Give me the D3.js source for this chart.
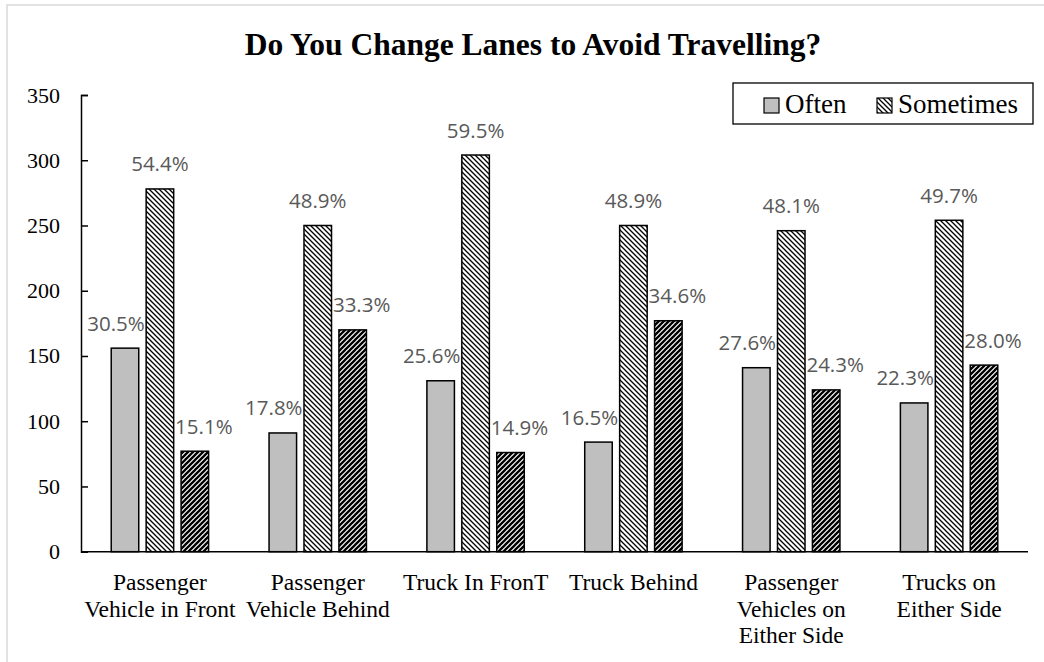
<!DOCTYPE html>
<html>
<head>
<meta charset="utf-8">
<script src="https://cdn.jsdelivr.net/npm/d3@7"></script>
<style>
  html, body { margin: 0; padding: 0; background: #fff; }
  svg { display: block; }
</style>
</head>
<body>
<svg id="chart" width="1044" height="662"></svg>
<script>
// Survey responses: number of respondents per situation and answer
const categories = [
  ["Passenger", "Vehicle in Front"],
  ["Passenger", "Vehicle Behind"],
  ["Truck In FronT"],
  ["Truck Behind"],
  ["Passenger", "Vehicles on", "Either Side"],
  ["Trucks on", "Either Side"]
];
const seriesNames = ["Often", "Sometimes", "Never"];
const oftenValues = [156, 91, 131, 84, 141, 114];
const sometimesValues = [278, 250, 304, 250, 246, 254];
const neverValues = [77, 170, 76, 177, 124, 143];
const oftenPct = ["30.5%", "17.8%", "25.6%", "16.5%", "27.6%", "22.3%"];
const sometimesPct = ["54.4%", "48.9%", "59.5%", "48.9%", "48.1%", "49.7%"];
const neverPct = ["15.1%", "33.3%", "14.9%", "34.6%", "24.3%", "28.0%"];
const yTicks = [0, 50, 100, 150, 200, 250, 300, 350];
const legendNames = ["Often", "Sometimes"];

const values = [oftenValues, sometimesValues, neverValues];
const pcts = [oftenPct, sometimesPct, neverPct];
// horizontal nudge of each series' labels away from the middle bar
const labelShift = [-9, 0, 9];

const svg = d3.select("#chart");
const plot = { left: 81, right: 1028, top: 95, bottom: 551.7 };

// Fill patterns for the hatched series
const defs = svg.append("defs");
const down = defs.append("pattern")
  .attr("id", "hatchDown").attr("patternUnits", "userSpaceOnUse")
  .attr("width", 5).attr("height", 5);
down.append("rect").attr("width", 5).attr("height", 5).attr("fill", "#fff");
down.append("path").attr("d", "M0,0 L5,5 M-1,4 L1,6 M4,-1 L6,1")
  .attr("stroke", "#000").attr("stroke-width", 1.3);

const up = defs.append("pattern")
  .attr("id", "hatchUp").attr("patternUnits", "userSpaceOnUse")
  .attr("width", 5).attr("height", 5);
up.append("rect").attr("width", 5).attr("height", 5).attr("fill", "#fff");
up.append("path").attr("d", "M0,5 L5,0 M-1,1 L1,-1 M4,6 L6,4")
  .attr("stroke", "#000").attr("stroke-width", 2.3);

const fills = ["#bfbfbf", "url(#hatchDown)", "url(#hatchUp)"];

// Chart area border
svg.append("rect")
  .attr("x", 7).attr("y", 5).attr("width", 1100).attr("height", 700)
  .attr("fill", "none").attr("stroke", "#d9d9d9").attr("stroke-width", 1.5);

// Title
svg.append("text")
  .attr("x", 533).attr("y", 55)
  .attr("text-anchor", "middle")
  .attr("font-family", "'Liberation Serif', 'Times New Roman', serif")
  .attr("font-weight", "bold").attr("font-size", 31.5)
  .text("Do You Change Lanes to Avoid Travelling?");

// Scales
const x0 = d3.scaleBand()
  .domain(d3.range(categories.length))
  .range([plot.left, plot.right])
  .paddingInner(0.383).paddingOuter(0.1915);
const x1 = d3.scaleBand()
  .domain(d3.range(seriesNames.length))
  .range([0, x0.bandwidth()])
  .paddingInner(0.212).paddingOuter(0);
const y = d3.scaleLinear().domain([0, 350]).range([plot.bottom, plot.top]);

// Y axis with inward ticks
const yAxis = svg.append("g")
  .attr("transform", `translate(${plot.left},0)`)
  .call(d3.axisRight(y).tickValues(yTicks).tickSize(7).tickFormat(""));
yAxis.select(".domain").attr("stroke", "#000").attr("stroke-width", 1.5);
yAxis.selectAll(".tick line").attr("stroke", "#000").attr("stroke-width", 1.5);

svg.append("g").selectAll("text")
  .data(yTicks)
  .join("text")
  .attr("x", plot.left - 21)
  .attr("y", d => y(d) + 7.5)
  .attr("text-anchor", "end")
  .attr("font-family", "'Liberation Serif', 'Times New Roman', serif")
  .attr("font-size", 22)
  .attr("fill", "#000")
  .text(d => d);

// Bars
const barG = svg.append("g");
values.forEach((vals, s) => {
  barG.selectAll(null)
    .data(vals)
    .join("rect")
    .attr("x", (d, i) => x0(i) + x1(s))
    .attr("y", d => y(d))
    .attr("width", x1.bandwidth())
    .attr("height", d => y(0) - y(d))
    .attr("fill", fills[s])
    .attr("stroke", "#000")
    .attr("stroke-width", 1.5);
});

// X axis line
svg.append("line")
  .attr("x1", plot.left).attr("x2", plot.right)
  .attr("y1", y(0)).attr("y2", y(0))
  .attr("stroke", "#000").attr("stroke-width", 1.5);

// Value labels above each bar
const labelG = svg.append("g");
values.forEach((vals, s) => {
  labelG.selectAll(null)
    .data(vals)
    .join("text")
    .attr("x", (d, i) => x0(i) + x1(s) + x1.bandwidth() / 2 + labelShift[s])
    .attr("y", d => y(d) - 17.5)
    .attr("text-anchor", "middle")
    .attr("font-family", "'Open Sans', 'Noto Sans', sans-serif")
    .attr("font-size", 20.5)
    .attr("fill", "#595959")
    .text((d, i) => pcts[s][i]);
});

// Category labels
const catG = svg.append("g");
categories.forEach((lines, i) => {
  const t = catG.append("text")
    .attr("text-anchor", "middle")
    .attr("font-family", "'Liberation Serif', 'Times New Roman', serif")
    .attr("font-size", 23.5)
    .attr("fill", "#000");
  lines.forEach((line, k) => {
    t.append("tspan")
      .attr("x", x0(i) + x0.bandwidth() / 2)
      .attr("y", 590 + k * 26.5)
      .text(line);
  });
});

// Legend
const legend = svg.append("g");
legend.append("rect")
  .attr("x", 733).attr("y", 83).attr("width", 300).attr("height", 41)
  .attr("fill", "#fff").attr("stroke", "#000").attr("stroke-width", 1.3);
const legendX = [764, 877];
legendNames.forEach((name, k) => {
  legend.append("rect")
    .attr("x", legendX[k]).attr("y", 98)
    .attr("width", 15).attr("height", 15)
    .attr("fill", fills[k]).attr("stroke", "#000").attr("stroke-width", 1.2);
  legend.append("text")
    .attr("x", legendX[k] + 21).attr("y", 113)
    .attr("font-family", "'Liberation Serif', 'Times New Roman', serif")
    .attr("font-size", 27)
    .attr("fill", "#000")
    .text(name);
});
</script>
</body>
</html>
